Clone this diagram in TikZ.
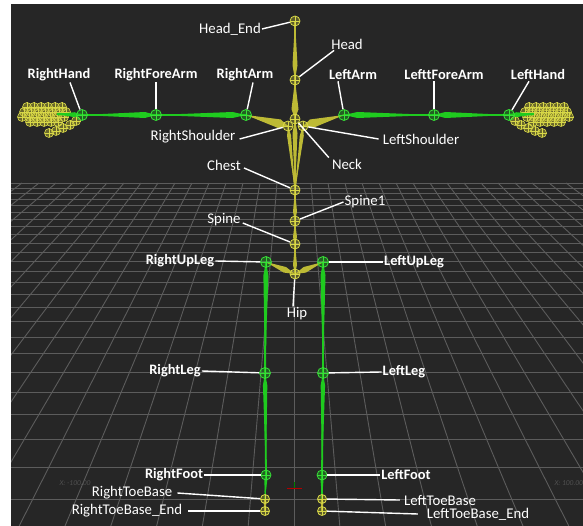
\documentclass[tikz,border=0pt]{standalone}
\usepackage{fontspec}
\setmainfont{Carlito}
\usetikzlibrary{calc}

\definecolor{bg}{HTML}{262626}
\definecolor{gridc}{HTML}{5C5C5C}
\definecolor{gridtxt}{HTML}{505050}
\definecolor{boneY}{HTML}{BDBA35}
\definecolor{jointY}{HTML}{D8D848}
\definecolor{boneG}{HTML}{1FCB1F}
\definecolor{jointG}{HTML}{38E038}

\tikzset{
  x=1pt, y=-1pt,
  crossmark/.style={path picture={\draw[#1, line width=.6pt]
      (path picture bounding box.north) -- (path picture bounding box.south)
      (path picture bounding box.west) -- (path picture bounding box.east);}},
  jg/.style={circle, draw=jointG, line width=.8pt, fill=boneG, fill opacity=.35,
    minimum size=11pt, inner sep=0pt, crossmark=jointG},
  jy/.style={circle, draw=jointY, line width=.8pt, fill=boneY, fill opacity=.35,
    minimum size=10pt, inner sep=0pt, crossmark=jointY},
  jt/.style={jy, minimum size=9pt},
  lbl/.style={text=white, font=\fontsize{14.8}{17}\selectfont, inner sep=1pt},
  lblb/.style={lbl, font=\fontsize{14.4}{17}\selectfont\bfseries},
  leader/.style={draw=white, line width=1.4pt},
  gridline/.style={draw=gridc, line width=.9pt},
  fingerc/.style={draw=jointY, line width=.6pt, fill=boneY, fill opacity=.45},
}

% kite-shaped bone: style, parent, child, half width, position of widest point, core width
\newcommand\bonekite[6]{%
  \path (#2) -- coordinate[pos=#5] (bk) (#3);
  \fill[#1] (#2) -- ($(bk)!#4!90:(#3)$) -- (#3) -- ($(bk)!#4!-90:(#3)$) -- cycle;
  \draw[#1, line width=#6] (#2) -- (#3);}

% one hand: chains of small joint circles for the fingers
\newcommand\fingers{%
  \foreach \px/\py in {62/107,55/107,48/107,41/107,34/107,27/107,
                       66/112,59/112,52/112,45/112,38/112,31/112,24/112,
                       64/117,57/117,50/117,43/117,36/117,29/117,22/117,
                       58/122,51/122,44/122,37/122,30/122,
                       76/121,70/125,63/128,56/131,49/133}{
    \filldraw[fingerc] (\px,\py) circle (4.5);
    \draw[jointY, line width=.4pt] (\px-4.5,\py) -- (\px+4.5,\py) (\px,\py-4.5) -- (\px,\py+4.5);
  }}

\begin{document}
\begin{tikzpicture}
\useasboundingbox (0,0) rectangle (583,526);
\fill[white] (0,0) rectangle (583,526);
\fill[bg] (11,4) rectangle (583,526);

% ground grid in perspective
\begin{scope}
  \clip (11,4) rectangle (583,526);
  \foreach \n in {0,...,25}{
    \pgfmathsetmacro\yy{203/(1-0.025375*\n)-20}
    \draw[gridline] (11,\yy) -- (583,\yy);
  }
  \foreach \k in {-17,...,17}{
    \draw[gridline] (294+17.0*\k,183) -- (294+45.8*\k,526);
  }
  \node[font=\fontsize{7.5}{8}\selectfont\itshape, text=gridtxt] (axl) at (75,483) {X: -100.00};
  \node[font=\fontsize{7.5}{8}\selectfont\itshape, text=gridtxt, anchor=west] (axr) at (551,483) {X: 100.00};
  \draw[red!70!black, line width=.8pt] (287,488) -- (302,488);
  \draw[green!50!black, line width=.8pt] (294,482) -- (294,488);
\end{scope}

% joint positions
\coordinate (cHeadEnd) at (295,21);
\coordinate (cHead) at (295,80);
\coordinate (cNeck) at (295,119);
\coordinate (cRS) at (288,126);
\coordinate (cLS) at (303,126);
\coordinate (cChest) at (295,190);
\coordinate (cSpineA) at (295,221);
\coordinate (cSpine) at (295,244);
\coordinate (cHip) at (295,274);
\coordinate (cRArm) at (246,115);
\coordinate (cRFore) at (156,115);
\coordinate (cRHand) at (82,115);
\coordinate (cRTip) at (57,114);
\coordinate (cLArm) at (344,115);
\coordinate (cLFore) at (434,115);
\coordinate (cLHand) at (509,115);
\coordinate (cLTip) at (534,114);
\coordinate (cRUp) at (266,262);
\coordinate (cRLeg) at (265,373);
\coordinate (cRFoot) at (266,475);
\coordinate (cRToe) at (265,499);
\coordinate (cRToeEnd) at (265,511);
\coordinate (cLUp) at (323,262);
\coordinate (cLLeg) at (323,373);
\coordinate (cLFoot) at (322,475);
\coordinate (cLToe) at (322,499);
\coordinate (cLToeEnd) at (322,511);

% fingers
\fingers
\begin{scope}[shift={(591,0)}, xscale=-1]
  \fingers
\end{scope}

% yellow bones
\bonekite{boneY}{cHead}{cHeadEnd}{2.5pt}{.25}{1.4pt}
\bonekite{boneY}{cNeck}{cHead}{3.5pt}{.25}{1.4pt}
\bonekite{boneY}{cChest}{cNeck}{2.5pt}{.8}{1.4pt}
\bonekite{boneY}{cChest}{cRS}{2pt}{.85}{1.2pt}
\bonekite{boneY}{cChest}{cLS}{2pt}{.85}{1.2pt}
\bonekite{boneY}{cRS}{cRArm}{4.5pt}{.2}{1.2pt}
\bonekite{boneY}{cLS}{cLArm}{4.5pt}{.2}{1.2pt}
\bonekite{boneY}{cSpineA}{cChest}{2pt}{.3}{1.6pt}
\bonekite{boneY}{cSpine}{cSpineA}{2pt}{.3}{1.6pt}
\bonekite{boneY}{cHip}{cSpine}{2pt}{.3}{1.6pt}
\bonekite{boneY}{cHip}{cRUp}{3pt}{.35}{1.2pt}
\bonekite{boneY}{cHip}{cLUp}{3pt}{.35}{1.2pt}
\bonekite{boneY}{cRToe}{cRToeEnd}{1.5pt}{.3}{1.2pt}
\bonekite{boneY}{cLToe}{cLToeEnd}{1.5pt}{.3}{1.2pt}

% green bones
\bonekite{boneG}{cRArm}{cRFore}{3pt}{.15}{2.6pt}
\bonekite{boneG}{cRFore}{cRHand}{3pt}{.15}{2.4pt}
\bonekite{boneG}{cRHand}{cRTip}{2.5pt}{.3}{2.4pt}
\bonekite{boneG}{cLArm}{cLFore}{3pt}{.15}{2.6pt}
\bonekite{boneG}{cLFore}{cLHand}{3pt}{.15}{2.4pt}
\bonekite{boneG}{cLHand}{cLTip}{2.5pt}{.3}{2.4pt}
\bonekite{boneG}{cRUp}{cRLeg}{2.5pt}{.12}{2pt}
\bonekite{boneG}{cRLeg}{cRFoot}{2.2pt}{.12}{1.8pt}
\bonekite{boneG}{cRFoot}{cRToe}{1.5pt}{.2}{1.2pt}
\bonekite{boneG}{cLUp}{cLLeg}{2.5pt}{.12}{2pt}
\bonekite{boneG}{cLLeg}{cLFoot}{2.2pt}{.12}{1.8pt}
\bonekite{boneG}{cLFoot}{cLToe}{1.5pt}{.2}{1.2pt}

% joints
\node[jy] (jHeadEnd) at (cHeadEnd) {};
\node[jy] (jHead) at (cHead) {};
\node[jy] (jNeck) at (cNeck) {};
\node[jy] (jRS) at (cRS) {};
\node[jy] (jLS) at (cLS) {};
\node[jy] (jChest) at (cChest) {};
\node[jy] (jSpineA) at (cSpineA) {};
\node[jy] (jSpine) at (cSpine) {};
\node[jy] (jHip) at (cHip) {};
\node[jg] (jRArm) at (cRArm) {};
\node[jg] (jRFore) at (cRFore) {};
\node[jg] (jRHand) at (cRHand) {};
\node[jg] (jLArm) at (cLArm) {};
\node[jg] (jLFore) at (cLFore) {};
\node[jg] (jLHand) at (cLHand) {};
\node[jg] (jRUp) at (cRUp) {};
\node[jg] (jRLeg) at (cRLeg) {};
\node[jg, minimum size=10pt] (jRFoot) at (cRFoot) {};
\node[jt] (jRToe) at (cRToe) {};
\node[jt] (jRToeEnd) at (cRToeEnd) {};
\node[jg] (jLUp) at (cLUp) {};
\node[jg] (jLLeg) at (cLLeg) {};
\node[jg, minimum size=10pt] (jLFoot) at (cLFoot) {};
\node[jt] (jLToe) at (cLToe) {};
\node[jt] (jLToeEnd) at (cLToeEnd) {};

% labels and leaders
\node[lbl] (lHeadEnd) at (230,29) {Head\_End};
\draw[leader] (lHeadEnd.east) -- (jHeadEnd);
\node[lbl] (lHead) at (347,44) {Head};
\draw[leader] ([xshift=4pt]lHead.south west) -- (jHead);

\node[lblb] (lRHand) at (59,75) {RightHand};
\draw[leader] ([xshift=11pt]lRHand.south) -- (jRHand);
\node[lblb] (lRFore) at (156,75) {RightForeArm};
\draw[leader] (lRFore.south) -- (jRFore);
\node[lblb] (lRArm) at (245,75) {RightArm};
\draw[leader] ([xshift=8pt]lRArm.south) -- (jRArm);
\node[lblb] (lLArm) at (353,75) {LeftArm};
\draw[leader] ([xshift=-15pt]lLArm.south) -- (jLArm);
\node[lblb] (lLFore) at (444,75) {LefttForeArm};
\draw[leader] ([xshift=-10pt]lLFore.south) -- (jLFore);
\node[lblb] (lLHand) at (538,75) {LeftHand};
\draw[leader] ([xshift=-9pt]lLHand.south) -- (jLHand);

\node[lbl] (lRS) at (193,137) {RightShoulder};
\draw[leader] ([xshift=3pt,yshift=-2pt]lRS.east) -- (jRS);
\node[lbl] (lLS) at (421,139) {LeftShoulder};
\draw[leader] ([xshift=-3pt]lLS.west) -- (jLS);
\node[lbl] (lNeck) at (347,164) {Neck};
\draw[leader] ([xshift=-2pt]lNeck.north west) -- (jNeck);
\node[lbl] (lChest) at (224,165) {Chest};
\draw[leader] ([xshift=2pt,yshift=-3pt]lChest.east) -- (jChest);
\node[lbl] (lSpineA) at (365,202) {Spine1};
\draw[leader] (lSpineA.west) -- (jSpineA);
\node[lbl] (lSpine) at (224,220) {Spine};
\draw[leader] ([xshift=1pt,yshift=-3pt]lSpine.east) -- (jSpine);
\node[lblb] (lRUp) at (180,261) {RightUpLeg};
\draw[leader] (lRUp.east) -- (jRUp);
\node[lblb] (lLUp) at (414,262) {LeftUpLeg};
\draw[leader] (lLUp.west) -- (jLUp);
\node[lbl] (lHip) at (297,314) {Hip};
\draw[leader] ([xshift=-4pt]lHip.north) -- (jHip);

\node[lblb] (lRLeg) at (175,371) {RightLeg};
\draw[leader] (lRLeg.east) -- (jRLeg);
\node[lblb] (lLLeg) at (404,372) {LeftLeg};
\draw[leader] (lLLeg.west) -- (jLLeg);
\node[lblb] (lRFoot) at (174,475) {RightFoot};
\draw[leader] (lRFoot.east) -- (jRFoot);
\node[lblb] (lLFoot) at (406,475) {LeftFoot};
\draw[leader] (lLFoot.west) -- (jLFoot);

\node[lbl] (lRToe) at (132,493) {RightToeBase};
\draw[leader] ([xshift=4pt]lRToe.east) -- (jRToe);
\node[lbl] (lRToeEnd) at (127,511) {RightToeBase\_End};
\draw[leader] ([xshift=5pt]lRToeEnd.east) -- (jRToeEnd);
\node[lbl] (lLToe) at (440,500) {LeftToeBase};
\draw[leader] ([xshift=-3pt]lLToe.west) -- (jLToe);
\node[lbl] (lLToeEnd) at (478,514) {LeftToeBase\_End};
\draw[leader] ([xshift=-8pt]lLToeEnd.west) -- (jLToeEnd);
\end{tikzpicture}
\end{document}
